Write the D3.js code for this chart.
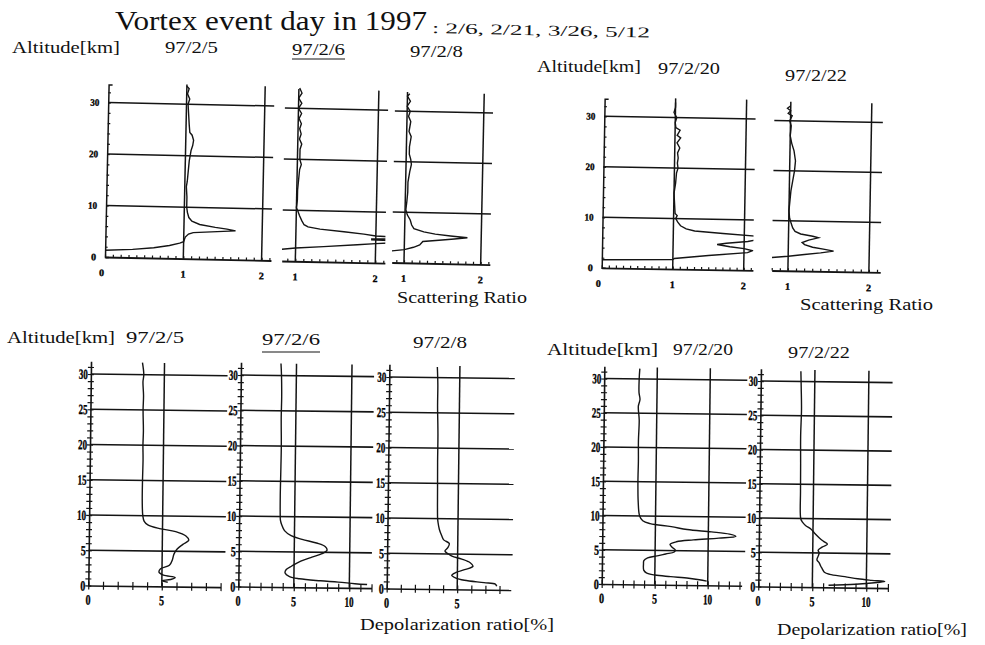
<!DOCTYPE html>
<html>
<head>
<meta charset="utf-8">
<script src="https://cdn.jsdelivr.net/npm/d3@7"></script>
<style>
  body { margin: 0; background: #fff; }
  svg { display: block; }
  text { font-family: "Liberation Serif", "Times New Roman", serif; fill: #111; }
  .num { font-weight: bold; fill: #000; stroke: #000; stroke-width: 0.35; }
</style>
</head>
<body>
<svg id="chart" width="985" height="645"></svg>
<script>
// profiles are [altitude km, value] pairs
var titleText = "Vortex event day in 1997";
var eventDays = ["2/6", "2/21", "3/26", "5/12"];
var dates = ["97/2/5", "97/2/6", "97/2/8", "97/2/20", "97/2/22"];

var topGrid = [10, 20, 30];
var topAltLabels = [0, 10, 20, 30];
var bottomGrid = [5, 10, 15, 20, 25, 30];
var bottomAltLabels = [0, 5, 10, 15, 20, 25, 30];

// scattering ratio
var sr0205 = [[1.3,0.0],[1.6,0.35],[2.0,0.62],[2.5,0.82],[3.0,0.95],[3.3,1.0],[4.2,1.02],[4.8,1.06],[5.1,1.12],[5.3,1.35],[5.6,1.66],[5.9,1.55],[6.2,1.4],[6.7,1.2],[7.3,1.1],[8.0,1.06],[9.0,1.04],[10,1.03],[12,1.03],[14,1.02],[15,1.03],[17,1.04],[19,1.05],[20,1.06],[21,1.07],[22,1.09],[23,1.1],[24,1.08],[24.5,1.05],[26,1.04],[28,1.03],[30,1.02],[31,1.04],[32,1.01],[33,1.03],[33.5,1.0]];
var sr0206 = [[2.3,0.83],[2.6,1.0],[3.0,1.35],[3.5,1.77],[3.8,2.0],[4.1,2.3],[4.4,2.3],[4.5,1.95],[4.7,1.95],[4.8,2.3],[5.1,2.3],[5.3,2.0],[5.6,1.85],[6.0,1.6],[6.4,1.3],[6.8,1.15],[7.2,1.1],[8,1.07],[9,1.04],[9.8,1.02],[10.5,1.0],[12,1.01],[14,1.01],[16,1.02],[18,1.03],[19,1.05],[20,1.03],[22,1.03],[23,1.05],[24,1.02],[25,1.04],[26,1.02],[27,1.04],[28,1.01],[29,1.04],[30,1.0],[31,1.04],[32,1.0],[33,1.04],[34,1.01]];
var sr0208 = [[2.3,0.84],[2.6,1.0],[3.1,1.12],[3.6,1.2],[4.3,1.24],[4.6,1.45],[4.9,1.65],[5.2,1.82],[5.5,1.6],[5.8,1.4],[6.2,1.25],[6.8,1.12],[7.5,1.09],[8.5,1.07],[9.5,1.03],[10.5,1.01],[12,1.02],[14,1.03],[16,1.03],[18,1.05],[19.5,1.07],[20.5,1.06],[21.5,1.04],[23,1.04],[25,1.06],[26,1.03],[28,1.05],[29,1.02],[30,1.04],[31,1.0],[32,1.04],[33,1.0],[33.5,1.03]];
var sr0220 = [[1.6,0.0],[1.9,1.0],[2.1,1.02],[2.8,1.5],[3.5,2.05],[3.9,2.12],[4.3,2.0],[4.6,1.8],[5.0,1.62],[5.3,1.75],[5.7,2.05],[6.0,2.15],[6.8,2.15],[7.2,1.7],[7.6,1.3],[8.0,1.18],[8.6,1.1],[9.3,1.06],[10,1.03],[10.6,1.05],[11,1.02],[13,1.01],[15,1.0],[17,1.02],[19,1.03],[20,1.05],[21,1.04],[22,1.05],[23,1.04],[24,1.07],[25,1.03],[26,1.08],[26.5,1.03],[27.5,1.07],[28,1.01],[29,1.0],[30,1.02],[31,0.98],[32,1.0],[33,1.0]];
var sr0222 = [[2.6,0.8],[2.9,1.0],[3.3,1.2],[3.7,1.4],[4.1,1.56],[4.4,1.45],[4.8,1.3],[5.3,1.2],[5.7,1.17],[6.2,1.25],[6.7,1.37],[7.0,1.3],[7.4,1.15],[7.9,1.08],[8.6,1.05],[9.5,1.03],[10.5,1.01],[12,1.0],[14,1.01],[16,1.02],[18,1.04],[20,1.06],[22,1.07],[24,1.05],[25.5,1.02],[27,1.0],[29,1.01],[30,0.99],[31,1.02],[31.5,0.97],[32,1.0],[32.5,0.96],[33,1.0]];

// depolarization ratio [%]
var dp0205 = [[0.6,5.4],[0.8,5.0],[1.0,5.6],[1.3,5.9],[1.6,5.1],[2.0,4.8],[2.5,4.9],[3.0,5.5],[3.8,5.7],[4.6,5.8],[5.3,6.0],[6.0,6.4],[6.6,6.8],[7.2,6.6],[7.8,5.9],[8.2,4.8],[8.7,4.0],[9.2,3.75],[10,3.65],[12,3.6],[15,3.6],[18,3.62],[20,3.6],[22,3.62],[25,3.58],[27,3.6],[29,3.55],[30,3.6],[31.7,3.5]];
var dp0206 = [[0.5,11.6],[0.6,10.5],[0.8,9.0],[0.95,7.4],[1.2,5.5],[1.5,4.6],[2.0,4.2],[2.5,4.3],[3.0,4.8],[3.7,5.6],[4.3,6.6],[4.8,7.5],[5.3,7.95],[5.8,7.8],[6.3,7.0],[6.8,5.7],[7.3,4.7],[8,4.1],[8.8,3.85],[9.5,3.72],[10,3.7],[13,3.68],[16,3.7],[20,3.72],[24,3.68],[27,3.7],[30,3.66],[31.7,3.6]];
var dp0208 = [[0.5,7.8],[0.8,7.7],[1.0,6.9],[1.3,5.5],[1.6,4.9],[2.0,4.6],[2.4,4.9],[2.8,5.5],[3.3,6.1],[3.8,5.9],[4.3,5.3],[4.7,4.6],[5.0,4.35],[5.4,4.1],[5.9,4.3],[6.5,4.4],[7.0,4.0],[7.6,3.85],[8.5,3.68],[9.5,3.58],[10,3.55],[14,3.52],[18,3.5],[22,3.5],[26,3.45],[29,3.45],[31.5,3.4]];
var dp0220 = [[0.6,9.9],[0.8,9.2],[1.0,8.2],[1.2,6.5],[1.4,5.0],[1.7,4.2],[2.1,3.95],[3.0,3.92],[3.5,3.95],[3.9,4.3],[4.2,5.2],[4.5,6.0],[4.8,6.8],[5.1,6.9],[5.5,6.6],[5.9,6.4],[6.3,7.0],[6.6,8.6],[6.9,11.0],[7.2,12.6],[7.5,12.0],[7.8,10.3],[8.1,8.0],[8.5,6.5],[8.9,4.5],[9.3,3.8],[10,3.5],[12,3.35],[15,3.3],[18,3.32],[21,3.3],[24,3.35],[26,3.25],[27,3.4],[28,3.3],[30,3.3],[31.5,3.35]];
var dp0222 = [[0.3,6.5],[0.5,9.0],[0.8,11.0],[0.95,11.7],[1.1,10.5],[1.3,9.2],[1.6,8.0],[1.9,6.6],[2.2,6.1],[2.7,5.9],[3.1,5.75],[3.6,5.6],[4.0,5.4],[4.5,5.5],[5.0,5.6],[5.4,5.5],[5.9,5.9],[6.3,6.35],[6.7,6.0],[7.2,5.6],[7.8,5.2],[8.5,4.8],[9.0,4.3],[9.5,4.0],[10,3.85],[14,3.8],[18,3.78],[22,3.75],[26,3.8],[29,3.75],[31.5,3.7]];

// where each little plot sits on the page (the scan is slightly tilted)
var topPanels = [
  {data: sr0205, x0: 105, y0: 257, ux: 78.3, uy: 5.15, xmin: 0, xmax: 2.12, rot: 1.2, yAxis: true, labels: [0, 1, 2]},
  {data: sr0206, x0: 281.7, y0: 261, ux: 80, uy: 5.1, xmin: 0.83, xmax: 2.12, rot: 1.2, yAxis: false, labels: [1, 2]},
  {data: sr0208, x0: 391.7, y0: 262.5, ux: 76.7, uy: 5.05, xmin: 0.84, xmax: 2.12, rot: 1.2, yAxis: false, labels: [1, 2]},
  {data: sr0220, x0: 601.7, y0: 267.8, ux: 71, uy: 5.05, xmin: 0, xmax: 2.13, rot: 1.0, yAxis: true, labels: [0, 1, 2]},
  {data: sr0222, x0: 771.7, y0: 270.5, ux: 81, uy: 5.0, xmin: 0.8, xmax: 2.14, rot: 1.0, yAxis: false, labels: [1, 2]}
];
var bottomPanels = [
  {data: dp0205, x0: 88.3, y0: 585.5, ux: 14.7, uy: 7.05, gridEnd: 9.3, axEnd: 9, rot: 0.7, vlines: [5], labels: [0, 5]},
  {data: dp0206, x0: 238.3, y0: 586.5, ux: 11.1, uy: 7.05, gridEnd: 12.0, axEnd: 12, rot: 0.7, vlines: [5, 10], labels: [0, 5, 10]},
  {data: dp0208, x0: 386.7, y0: 588.5, ux: 14.1, uy: 7.05, gridEnd: 8.9, axEnd: 8.8, rot: 0.7, vlines: [5], labels: [0, 5]},
  {data: dp0220, x0: 601.7, y0: 584, ux: 10.6, uy: 6.85, gridEnd: 13.5, axEnd: 13.2, rot: 0.7, vlines: [5, 10], labels: [0, 5, 10]},
  {data: dp0222, x0: 758.3, y0: 586.5, ux: 10.8, uy: 6.85, gridEnd: 12.2, axEnd: 12, rot: 0.7, vlines: [5, 10], labels: [0, 5, 10]}
];

var svg = d3.select("#chart");
var ink = "#141414";

function addText(str, x, y, size, len, opts) {
  opts = opts || {};
  var t = svg.append("text")
    .attr("x", x).attr("y", y)
    .attr("font-size", size)
    .text(str);
  if (len) t.attr("textLength", len).attr("lengthAdjust", "spacingAndGlyphs");
  if (opts.rot) t.attr("transform", "rotate(" + opts.rot + "," + x + "," + y + ")");
  if (opts.underline) {
    svg.append("line")
      .attr("x1", x).attr("x2", x + len)
      .attr("y1", y + opts.underline).attr("y2", y + opts.underline)
      .attr("stroke", ink).attr("stroke-width", 1.2);
  }
  return t;
}

// ---- texts ----
addText(titleText, 115, 30, 27, 312);
addText(":  " + eventDays.join(",  "), 432, 33, 15, 218, {rot: 1.2});

addText("Altitude[km]", 12, 53, 17, 108);
addText(dates[0], 165, 53, 17, 53);
addText(dates[1], 292, 55, 17, 53, {underline: 4});
addText(dates[2], 410, 57, 17, 53);
addText("Altitude[km]", 537, 72, 17, 104);
addText(dates[3], 658, 74, 17, 62);
addText(dates[4], 785, 81, 17, 62);
addText("Scattering Ratio", 397, 303, 17, 130);
addText("Scattering Ratio", 800, 310, 17, 133);

addText("Altitude[km]", 7, 343, 17, 108);
addText(dates[0], 126, 343, 17, 58);
addText(dates[1], 262, 345, 17, 58, {underline: 7});
addText(dates[2], 413, 348, 17, 54);
addText("Altitude[km]", 547, 355, 17, 111);
addText(dates[3], 673, 355, 17, 60);
addText(dates[4], 788, 358, 17, 62);
addText("Depolarization ratio[%]", 360, 630, 17, 194);
addText("Depolarization ratio[%]", 777, 635, 17, 190);

function styleAxis(sel, w) {
  sel.select(".domain").attr("stroke", ink).attr("stroke-width", w);
  sel.selectAll(".tick line").attr("stroke", ink).attr("stroke-width", 1.2);
}

// ---- scattering ratio panels ----
topPanels.forEach(function(p, i) {
  var g = svg.append("g")
    .attr("transform", "translate(" + p.x0 + "," + p.y0 + ") rotate(" + p.rot + ")");
  var x = d3.scaleLinear().domain([p.xmin, p.xmax]).range([0, (p.xmax - p.xmin) * p.ux]);
  var y = d3.scaleLinear().domain([0, 34]).range([0, -34 * p.uy]);

  g.append("clipPath").attr("id", "clipTop" + i)
    .append("rect")
    .attr("x", 0).attr("y", y(34.5))
    .attr("width", x(p.xmax)).attr("height", y(0) - y(34.5) + 2);

  g.selectAll(".hgrid").data(topGrid).enter().append("line")
    .attr("x1", x(p.xmin)).attr("x2", x(p.xmax))
    .attr("y1", function(d) { return y(d); }).attr("y2", function(d) { return y(d); })
    .attr("stroke", ink).attr("stroke-width", 1.5);

  g.selectAll(".vgrid").data([1, 2]).enter().append("line")
    .attr("x1", function(d) { return x(d); }).attr("x2", function(d) { return x(d); })
    .attr("y1", y(0)).attr("y2", y(33.8))
    .attr("stroke", ink).attr("stroke-width", 1.5);

  var ticks = d3.range(Math.ceil(p.xmin * 10), Math.floor(p.xmax * 10) + 1).map(function(d) { return d / 10; });
  g.append("g")
    .call(d3.axisBottom(x).tickValues(ticks).tickSize(-2.5).tickSizeOuter(0).tickFormat(""))
    .call(styleAxis, 1.8);

  if (p.yAxis) {
    var yA = d3.scaleLinear().domain([0, 33.5]).range([0, -33.5 * p.uy]);
    g.append("g")
      .call(d3.axisLeft(yA).tickValues(d3.range(0, 34, 2)).tickSize(-2.5).tickSizeOuter(-4).tickFormat(""))
      .call(styleAxis, 1.5);
    g.selectAll(".ylab").data(topAltLabels).enter().append("text")
      .attr("class", "num")
      .attr("x", -9).attr("y", function(d) { return y(d) + 3.5; })
      .attr("text-anchor", "end").attr("font-size", 10)
      .attr("textLength", function(d) { return d === 0 ? 5 : 9; })
      .attr("lengthAdjust", "spacingAndGlyphs")
      .text(function(d) { return d; });
  }

  g.selectAll(".xlab").data(p.labels).enter().append("text")
    .attr("class", "num")
    .attr("x", function(d) { return x(d) - (d === 0 ? 3 : 0); }).attr("y", 19)
    .attr("text-anchor", "middle").attr("font-size", 10)
    .text(function(d) { return d; });

  var line = d3.line()
    .x(function(d) { return x(d[1]); })
    .y(function(d) { return y(d[0]); });
  g.append("path")
    .datum(p.data)
    .attr("clip-path", "url(#clipTop" + i + ")")
    .attr("d", line)
    .attr("fill", "none").attr("stroke", ink).attr("stroke-width", 1.4);
});

// ---- depolarization ratio panels ----
bottomPanels.forEach(function(p, i) {
  var g = svg.append("g")
    .attr("transform", "translate(" + p.x0 + "," + p.y0 + ") rotate(" + p.rot + ")");
  var x = d3.scaleLinear().domain([0, p.gridEnd]).range([0, p.gridEnd * p.ux]);
  var y = d3.scaleLinear().domain([0, 32]).range([0, -32 * p.uy]);

  g.selectAll(".hgrid").data(bottomGrid).enter().append("line")
    .attr("x1", x(0)).attr("x2", x(p.gridEnd))
    .attr("y1", function(d) { return y(d); }).attr("y2", function(d) { return y(d); })
    .attr("stroke", ink).attr("stroke-width", 1.6);

  g.selectAll(".vgrid").data(p.vlines).enter().append("line")
    .attr("x1", function(d) { return x(d); }).attr("x2", function(d) { return x(d); })
    .attr("y1", y(0)).attr("y2", y(31.7))
    .attr("stroke", ink).attr("stroke-width", 1.5);

  var yA = d3.scaleLinear().domain([0, 31.8]).range([0, -31.8 * p.uy]);
  g.append("g")
    .call(d3.axisLeft(yA).tickValues(d3.range(0, 32)).tickSize(3).tickSizeOuter(0).tickFormat(""))
    .call(styleAxis, 1.6)
    .selectAll(".tick line").attr("x1", 3);

  var xA = d3.scaleLinear().domain([0, p.axEnd]).range([0, p.axEnd * p.ux]);
  g.append("g")
    .call(d3.axisBottom(xA).tickValues(d3.range(0, p.axEnd + 0.01, 1)).tickSize(4).tickSizeOuter(0).tickFormat(""))
    .call(styleAxis, 1.6)
    .selectAll(".tick line").attr("y1", -4);

  g.selectAll(".ylab").data(bottomAltLabels).enter().append("text")
    .attr("class", "num")
    .attr("x", -3).attr("y", function(d) { return y(d) + 5; })
    .attr("text-anchor", "end").attr("font-size", 14)
    .attr("textLength", function(d) { return d < 10 ? 5 : 9; })
    .attr("lengthAdjust", "spacingAndGlyphs")
    .text(function(d) { return d; });

  g.selectAll(".xlab").data(p.labels).enter().append("text")
    .attr("class", "num")
    .attr("x", function(d) { return x(d); }).attr("y", 19)
    .attr("text-anchor", "middle").attr("font-size", 14)
    .attr("textLength", function(d) { return d < 10 ? 5 : 9; })
    .attr("lengthAdjust", "spacingAndGlyphs")
    .text(function(d) { return d; });

  var line = d3.line()
    .x(function(d) { return x(d[1]); })
    .y(function(d) { return y(d[0]); })
    .curve(d3.curveCatmullRom.alpha(0.5));
  g.append("path")
    .datum(p.data)
    .attr("d", line)
    .attr("fill", "none").attr("stroke", ink).attr("stroke-width", 1.4);
});
</script>
</body>
</html>
